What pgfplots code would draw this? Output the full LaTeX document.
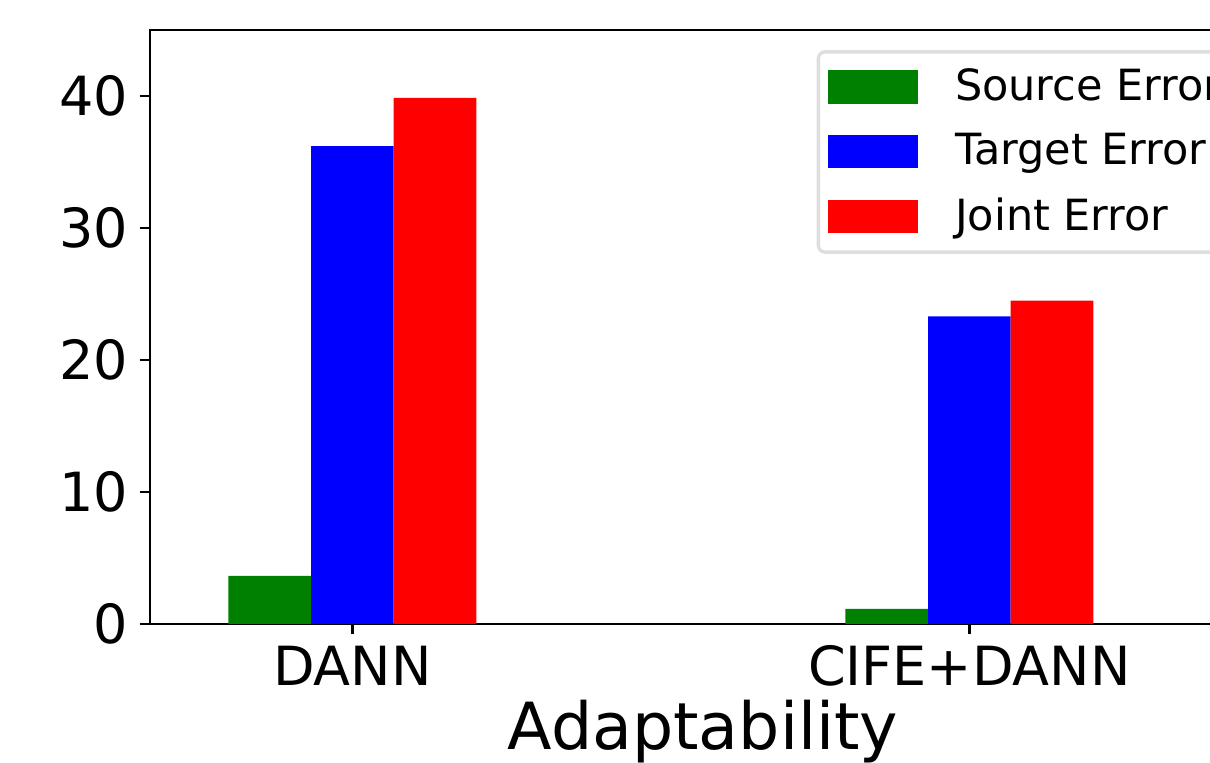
\documentclass[border=0pt]{standalone}
\usepackage{fontspec}
\setmainfont{DejaVu Sans}
\usepackage{pgfplots}
\pgfplotsset{compat=1.18}
\definecolor{mplgreen}{RGB}{0,128,0}
\definecolor{mplblue}{RGB}{0,0,255}
\definecolor{mplred}{RGB}{255,0,0}
\definecolor{legframe}{RGB}{222,222,222}
\begin{document}
\begin{tikzpicture}
\begin{axis}[
  at={(0,0)}, anchor=south west,
  scale only axis,
  width=331.7pt, height=178.2pt,
  xmin=-0.328, xmax=1.464,
  ymin=0, ymax=45,
  ybar, bar width=0.134, bar shift=0pt,
  xtick={0,1}, xticklabels={DANN, CIFE+DANN},
  ytick={0,10,20,30,40},
  tick align=outside, tick pos=left,
  major tick length=3pt,
  axis line style={line width=0.8pt},
  every tick/.style={black, line width=0.8pt},
  tick label style={font=\fontsize{16.2}{18}\selectfont},
  /pgf/number format/assume math mode=true,
  xlabel={Adaptability},
  xlabel style={font=\fontsize{19.5}{22}\selectfont, at={(axis description cs:0.5,0)}, anchor=base, yshift=-37.8pt},
  legend cell align=left,
  legend image code/.code={\fill[#1, sharp corners] (0pt,-5pt) rectangle (27pt,5pt); \path[draw=none, fill=none] (36pt,0pt);},
  legend style={at={(0.603,0.966)}, anchor=north west,
    draw=legframe, line width=1pt, rounded corners=2pt,
    font=\fontsize{12.9}{15}\selectfont,
    row sep=4.4pt, inner xsep=3pt, inner ysep=3pt},
]
\addplot[fill=mplgreen, draw=none] coordinates {(-0.134,3.65) (0.866,1.15)};
\addplot[fill=mplblue, draw=none] coordinates {(0,36.2) (1,23.3)};
\addplot[fill=mplred, draw=none] coordinates {(0.134,39.85) (1.134,24.5)};
\legend{Source Error, Target Error, Joint Error}
\end{axis}
\pgfresetboundingbox
\useasboundingbox (-45pt,-41.7pt) rectangle (318pt,187.2pt);
\end{tikzpicture}
\end{document}
